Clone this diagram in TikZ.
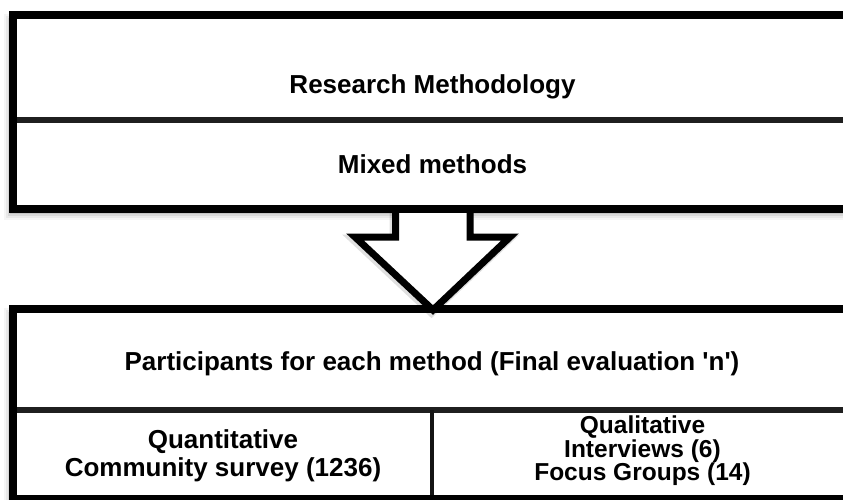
\documentclass[tikz,border=0pt]{standalone}
\usepackage{fontspec}
\setmainfont{Liberation Sans}
\begin{document}
\begin{tikzpicture}[x=1pt,y=-1pt,
  outer/.style={draw=black,line width=8pt,line join=miter},
  divider/.style={draw=black!88,line width=6pt},
  vdivider/.style={draw=black!92,line width=4.5pt},
  lbl/.style={anchor=base,inner sep=0pt,font=\bfseries\fontsize{26}{28}\selectfont},
  tight/.style={font=\bfseries\fontsize{24.5}{26}\selectfont,text height=16pt,text depth=4pt},
  shadowlayer/.style={fill=black,opacity=#1}
]
\useasboundingbox (0,0) rectangle (843,500);
\clip (0,0) rectangle (843,500);
\fill[white] (0,0) rectangle (843,500);

% shadows of the boxes
\foreach \s/\o in {6/0.04,4/0.05,2/0.07,0/0.09}{
  \fill[shadowlayer=\o] (13-3-\s,15+5-\s) rectangle (870,208.5+5+\s);
  \fill[shadowlayer=\o] (13-3-\s,309+5-\s) rectangle (870,520);
}

% box fills
\fill[white] (13,15) rectangle (870,208.5);
\fill[white] (13,309) rectangle (870,499);

% block arrow (connector from top box to bottom box)
\coordinate (ashl) at (395.5,237);
\coordinate (ashr) at (470,237);
\coordinate (tip) at (433,310);
\draw[black,opacity=0.12,line width=9pt,line join=miter] (395.5-1.5,213) -- (395.5-1.5,237+2) -- (355-1.5,237+2) -- (433-1.5,310+2) -- (510-1.5,237+2) -- (470-1.5,237+2) -- (470-1.5,213);
\fill[white] (395.5,212) -- (ashl) -- (355,237) -- (tip) -- (510,237) -- (ashr) -- (470,212) -- cycle;
\draw[line width=7pt,line join=miter] (395.5,208) -- (ashl) -- (355,237) -- (tip) -- (510,237) -- (ashr) -- (470,208);

% top box
\draw[divider] (13,120) -- (870,120);
\draw[outer] (870,15) -- (13,15) -- (13,208.5) -- (870,208.5);

% bottom box
\draw[divider] (13,410) -- (870,410);
\draw[vdivider] (432,410) -- (432,499);
\draw[outer] (870,309) -- (13,309) -- (13,499) -- (870,499);

% texts
\node[lbl] (rm) at (432.5,94) {Research Methodology};
\node[lbl] (mm) at (432.5,173) {Mixed methods};
\node[lbl] (pe) at (432,370) {Participants for each method (Final evaluation \textquotesingle n\textquotesingle)};
\node[lbl] (qn1) at (223,448) {Quantitative};
\node[lbl] (qn2) at (223,476) {Community survey (1236)};
\node[lbl,tight] (ql1) at (642.5,433.5) {Qualitative};
\node[lbl,tight] (ql2) at (642.5,457) {Interviews (6)};
\node[lbl,tight] (ql3) at (642.5,480.5) {Focus Groups (14)};
\end{tikzpicture}
\end{document}
